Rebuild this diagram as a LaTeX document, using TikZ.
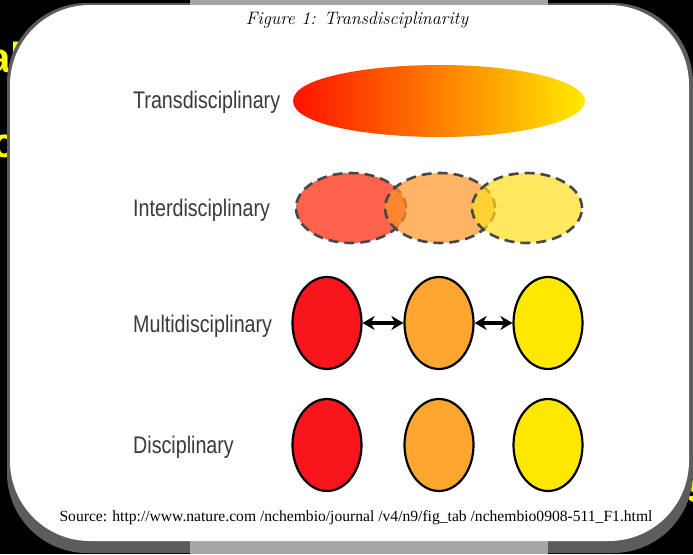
\documentclass[tikz,border=0pt]{standalone}
\usepackage{fontspec}
\usetikzlibrary{shapes.geometric,arrows.meta}

\newfontfamily\labelfont[FakeStretch=0.82]{Liberation Sans}
\newfontfamily\slidefont{Liberation Sans}
\newfontfamily\sourcefont{Liberation Serif}

\definecolor{slideyellow}{RGB}{255,255,0}
\definecolor{shadowgray}{RGB}{92,92,92}
\definecolor{bargray}{RGB}{166,166,166}
\definecolor{labelgray}{RGB}{58,58,58}
\definecolor{dashgray}{RGB}{72,72,72}
\definecolor{transred}{RGB}{255,18,0}
\definecolor{transorange}{RGB}{255,125,0}
\definecolor{transyellow}{RGB}{255,235,0}
\definecolor{interred}{RGB}{255,34,0}
\definecolor{interorange}{RGB}{255,148,36}
\definecolor{interyellow}{RGB}{255,222,28}
\definecolor{discred}{RGB}{248,22,28}
\definecolor{discorange}{RGB}{255,166,48}
\definecolor{discyellow}{RGB}{255,232,0}

\tikzset{
  rowlabel/.style={anchor=base west, inner sep=0, text=labelgray,
    font=\labelfont\fontsize{24}{28}\selectfont},
  slidetext/.style={anchor=base west, inner sep=0, text=slideyellow,
    font=\slidefont\bfseries\fontsize{42}{48}\selectfont},
  blob/.style={ellipse, draw=black, line width=2.2pt, inner sep=0,
    minimum width=69pt, minimum height=92pt},
  cloud/.style={ellipse, draw=dashgray, line width=2.6pt, inner sep=0,
    dash pattern=on 10pt off 6pt, fill opacity=0.7,
    minimum width=110pt, minimum height=70pt},
  link/.style={{Stealth[length=12pt,width=14pt]}-{Stealth[length=12pt,width=14pt]},
    line width=4.2pt},
}

\begin{document}
\begin{tikzpicture}[x=1pt,y=-1pt]
    % Frame of the slide
    \useasboundingbox (0,0) rectangle (693,554);
    \clip (0,0) rectangle (693,554);
    \fill[black] (0,0) rectangle (693,554);

    % Slide text behind the card
    \node[slidetext] (slideA) at (-13,72) {al};
    \node[slidetext] (slideB) at (-8,157) {c};
    \node[slidetext] (slideC) at (686,502) {s};

    % Card with its shadow
    \fill[shadowgray, rounded corners=80pt] (7,3) rectangle (693,553);
    \fill[bargray] (190,0) rectangle (548,554);
    \fill[white, rounded corners=80pt] (10,5) rectangle (689,541);

    % Title
    \node[font=\itshape\fontsize{18}{21}\selectfont] (title) at (357,20)
        {Figure 1: Transdisciplinarity};

    % Row labels
    \node[rowlabel] (trans) at (133,108) {Transdisciplinary};
    \node[rowlabel] (inter) at (133,216) {Interdisciplinary};
    \node[rowlabel] (multi) at (133,332) {Multidisciplinary};
    \node[rowlabel] (disc) at (133,453) {Disciplinary};

    % Transdisciplinary: one blended field
    \shade[left color=transred, middle color=transorange, right color=transyellow]
        (293,101) .. controls (293,77) and (370,65) .. (440,65)
        .. controls (520,65) and (585,81) .. (585,101)
        .. controls (585,121) and (520,137) .. (440,137)
        .. controls (370,137) and (293,125) .. (293,101) -- cycle;

    % Interdisciplinary: overlapping fields
    \node[cloud, fill=interred] (i1) at (351,208) {};
    \node[cloud, fill=interorange] (i2) at (440,208) {};
    \node[cloud, fill=interyellow] (i3) at (527,208) {};

    % Multidisciplinary: linked fields
    \node[blob, fill=discred] (m1) at (327,323) {};
    \node[blob, fill=discorange] (m2) at (439,323) {};
    \node[blob, fill=discyellow] (m3) at (548,323) {};
    \draw[link] (m1) -- (m2);
    \draw[link] (m2) -- (m3);

    % Disciplinary: separate fields
    \node[blob, fill=discred] (d1) at (327,445) {};
    \node[blob, fill=discorange] (d2) at (439,445) {};
    \node[blob, fill=discyellow] (d3) at (548,445) {};

    % Source line
    \node[font=\sourcefont\fontsize{15.6}{18}\selectfont] (source) at (356,518)
        {Source: http://www.nature.com /nchembio/journal /v4/n9/fig\_tab /nchembio0908-511\_F1.html};
\end{tikzpicture}
\end{document}
